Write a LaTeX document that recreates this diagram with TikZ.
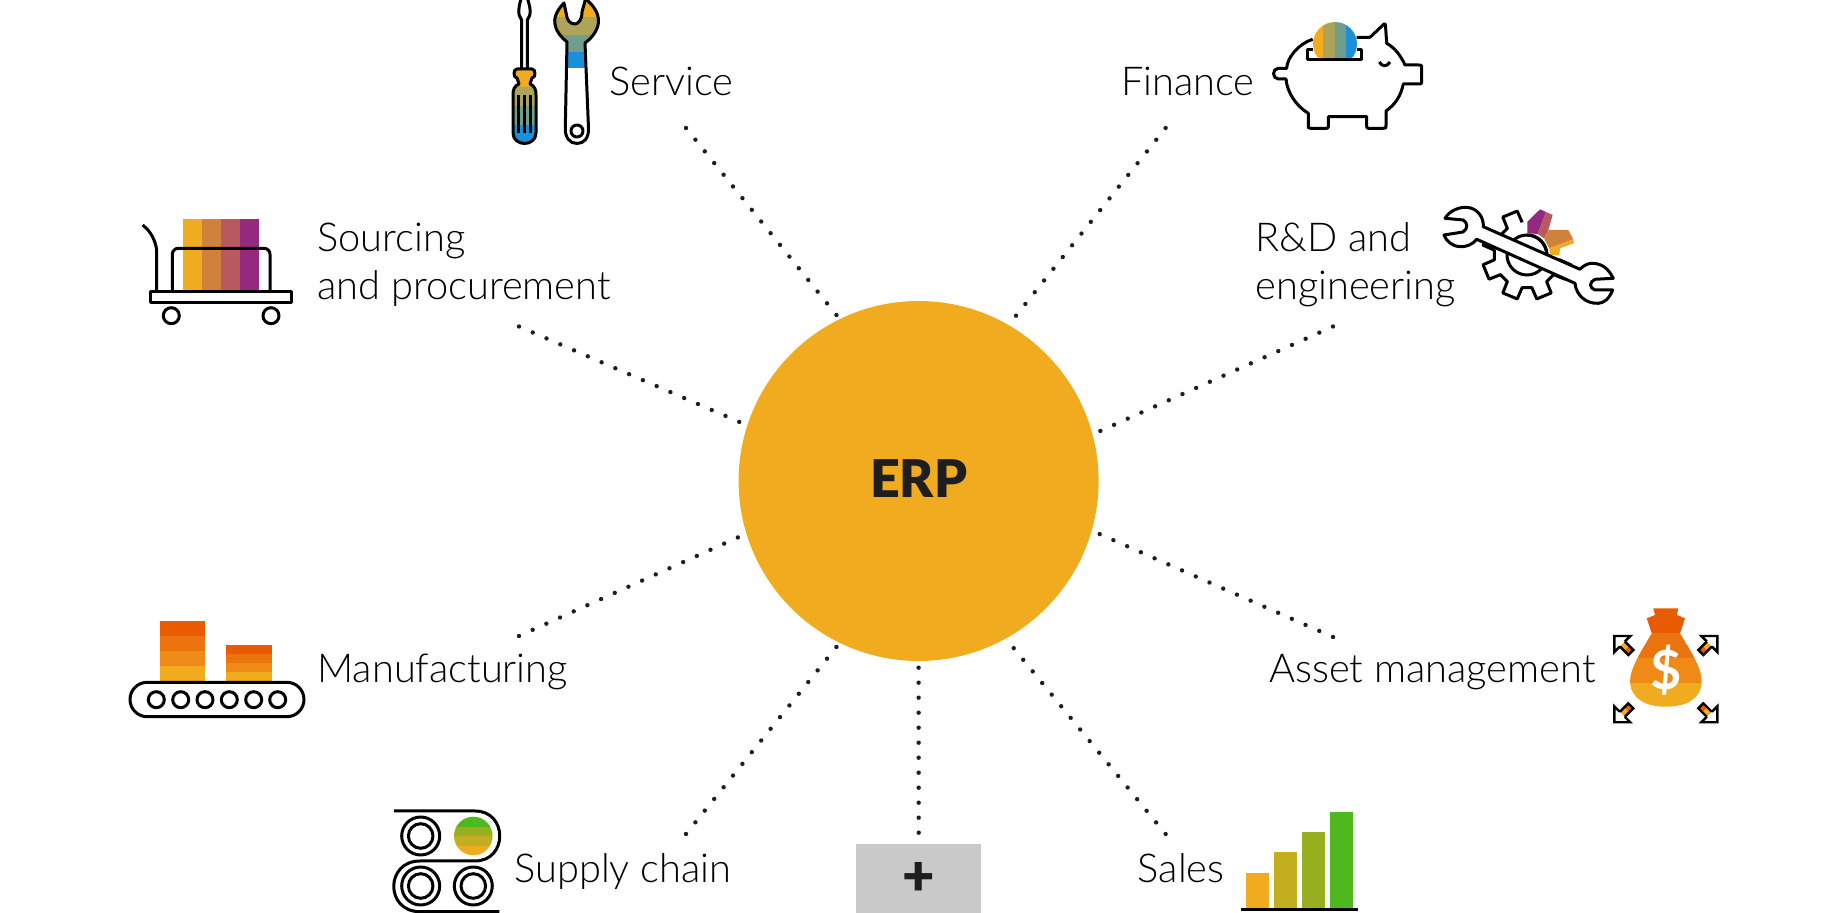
\documentclass[tikz,border=0pt]{standalone}
\usepackage{fontspec}
\setmainfont{Lato}[UprightFont=* Light, BoldFont=* Bold]
\newfontfamily\heavyface{Lato Black}
\usepackage{tikz}
\definecolor{erpgold}{HTML}{F0AB1E}
\definecolor{ink}{HTML}{1E1E1E}
\definecolor{olive}{HTML}{AEA35A}
\definecolor{teal}{HTML}{6F9F8C}
\definecolor{sky}{HTML}{1B90D8}
\definecolor{copper}{HTML}{D0823C}
\definecolor{rose}{HTML}{B85960}
\definecolor{plum}{HTML}{95297F}
\definecolor{rust}{HTML}{E85B00}
\definecolor{tanger}{HTML}{EB740F}
\definecolor{amber}{HTML}{EE8A15}
\definecolor{mustard}{HTML}{C3AE1F}
\definecolor{moss}{HTML}{98AF1F}
\definecolor{leaf}{HTML}{50B81F}
\def\driverpath{(517,69) -- (532,69) .. controls (536,69) and (536,78) .. (532,78) -- (530,84) .. controls (535,86) and (536,90) .. (536,95) -- (536,133) .. controls (536,140) and (530,143.5) .. (524.5,143.5) .. controls (519,143.5) and (513,140) .. (513,133) -- (513,95) .. controls (513,90) and (514,86) .. (519,84) -- (517,78) .. controls (513,78) and (513,69) .. (517,69) -- cycle}
\def\spannerpath{(564,3) .. controls (555,12) and (554,20) .. (555,24) .. controls (556,32) and (562,38) .. (567,42) -- (565.3,128) .. controls (565,138) and (570,143.5) .. (577,143.5) .. controls (584,143.5) and (589,138) .. (588.5,128) -- (585,43) .. controls (592,38) and (598,30) .. (598.5,22) .. controls (599,12) and (592,4) .. (585.5,-1) -- (582,12) .. controls (582,20) and (578,24) .. (575,24) .. controls (570,24) and (567,20) .. (566.5,15) -- cycle}
\def\bagpath{(1653.3,608.3) -- (1678.3,608.3) -- (1677,615) -- (1685,618.3) -- (1680,633.3) .. controls (1690,650) and (1702,668) .. (1701.7,681.7) .. controls (1701,700) and (1685,706.7) .. (1666,706.7) .. controls (1647,706.7) and (1631,700) .. (1630,681.7) .. controls (1630,668) and (1642,650) .. (1651.7,633.3) -- (1646.7,618.3) -- (1655,615) -- cycle}
\begin{document}
\begin{tikzpicture}[
  x=.5pt, y=-.5pt,
  lab/.style={font=\fontsize{19.9}{23.8}\selectfont, text=black, align=left, inner sep=0pt},
  hub/.style={circle, fill=erpgold, minimum size=180pt, inner sep=0pt, text=ink, font=\fontsize{26}{30}\selectfont\heavyface},
  more/.style={fill=black!21, minimum width=62.5pt, minimum height=34.5pt, inner sep=0pt, text=ink, font=\fontsize{28}{30}\selectfont\heavyface},
  spoke/.style={ink, line width=2.2pt, line cap=round, dash pattern=on 0pt off 7.5pt, shorten >=2pt},
  icon/.style={black, line width=1.5pt, line join=round},
  stout/.style={black, line width=1.7pt, line join=round}
]
  \useasboundingbox (0,0) rectangle (1822,913);
  \node[hub] (erp) at (918.6,481) {\raisebox{1.1pt}[\height][\depth]{ERP}};
  \node[more] (plus) at (918.5,878.5) {+};
  \node[lab, anchor=base west] (service) at (609,96) {Service};
  \node[lab, anchor=base east] (finance) at (1255,96) {Finance};
  \node[lab, anchor=west] (sourcing) at (317,265) {Sourcing\\and procurement};
  \node[lab, anchor=west] (rnd) at (1255,265) {R\&D and\\engineering};
  \node[lab, anchor=base west] (manufacturing) at (317,683) {Manufacturing};
  \node[lab, anchor=base east] (asset) at (1596,683) {Asset management};
  \node[lab, anchor=base west] (supply) at (514,883) {Supply chain};
  \node[lab, anchor=base east] (sales) at (1225,883) {Sales};
  \coordinate (serviceend) at (686,128);
  \coordinate (financeend) at (1165.6,128);
  \coordinate (sourcingend) at (519,326.5);
  \coordinate (rndend) at (1333,326.5);
  \coordinate (manufacturingend) at (519,636);
  \coordinate (assetend) at (1333,637);
  \coordinate (supplyend) at (686,834);
  \coordinate (salesend) at (1165.6,834);
  \coordinate (plusend) at (918.7,832.7);
  \draw[spoke] (serviceend) -- (erp.116);
  \draw[spoke] (financeend) -- (erp.60.5);
  \draw[spoke] (sourcingend) -- (erp.162.5);
  \draw[spoke] (rndend) -- (erp.15.6);
  \draw[spoke] (manufacturingend) -- (erp.197.5);
  \draw[spoke] (assetend) -- (erp.-16);
  \draw[spoke] (supplyend) -- (erp.244);
  \draw[spoke] (salesend) -- (erp.299.4);
  \draw[spoke] (plusend) -- (erp.270);

  \begin{scope}
    \clip \driverpath;
    \fill[erpgold] (505,60) rectangle (545,87);
    \fill[olive] (505,87) rectangle (545,106);
    \fill[teal] (505,106) rectangle (545,125);
    \fill[sky] (505,125) rectangle (545,150);
  \end{scope}
  \draw[icon] \driverpath;
  \draw[icon] (518.3,95) -- (518.3,133) (524.5,95) -- (524.5,133) (530.5,95) -- (530.5,133);
  \draw[icon] (521.7,69) -- (521.7,20) .. controls (517,15) and (519,6) .. (521,-1)
    (527.5,-1) .. controls (530,6) and (532,15) .. (527.3,20) -- (527.3,69);
  \begin{scope}
    \clip \spannerpath;
    \fill[erpgold] (545,-5) rectangle (605,17);
    \fill[olive] (545,17) rectangle (605,35);
    \fill[teal] (545,35) rectangle (605,52);
    \fill[sky] (545,52) rectangle (605,68);
  \end{scope}
  \draw[icon] \spannerpath;
  \draw[icon] (577,131) circle (6);

  \draw[icon] (1312.7,39.3) .. controls (1298,44) and (1287,58) .. (1286.7,68.3) -- (1278.3,68.3)
    .. controls (1272,68.3) and (1272,79) .. (1278.3,79) -- (1286,79)
    .. controls (1287,92) and (1296,106) .. (1308.3,113.3) -- (1308.3,125) .. controls (1308.3,128.3) .. (1311,128.3)
    -- (1325,128.3) .. controls (1328.3,128.3) .. (1328.3,125) -- (1328.3,116.7) -- (1366.7,116.7) -- (1366.7,125)
    .. controls (1366.7,128.3) .. (1370,128.3) -- (1383,128.3) .. controls (1386,128.3) .. (1386,125) -- (1386,111)
    .. controls (1396,104) and (1401,95) .. (1403.3,84) -- (1418,84) .. controls (1421.7,84) .. (1421.7,80)
    -- (1421.7,69) .. controls (1421.7,65) .. (1418,65) -- (1405,65)
    .. controls (1401,56) and (1395,48) .. (1386.7,43.3) -- (1385.5,26) .. controls (1385,23) .. (1382,26)
    -- (1370,37.3) -- (1356.7,37.3);
  \begin{scope}
    \clip (1335,44) circle (22);
    \fill[erpgold] (1310,20) rectangle (1323.3,59.3);
    \fill[olive] (1323.3,20) rectangle (1334.7,59.3);
    \fill[teal] (1334.7,20) rectangle (1346,59.3);
    \fill[sky] (1346,20) rectangle (1360,59.3);
  \end{scope}
  \draw[icon] (1313,50) -- (1307.7,50) -- (1307.7,59.3) -- (1361.7,59.3) -- (1361.7,50) -- (1357,50);
  \draw[icon] (1379.3,62) .. controls (1382,67) and (1387,67) .. (1390,62);

  \fill[erpgold] (183.3,219) rectangle (202,290.7);
  \fill[copper] (202,219) rectangle (221,290.7);
  \fill[rose] (221,219) rectangle (240,290.7);
  \fill[plum] (240,219) rectangle (259,290.7);
  \draw[icon, rounded corners=7pt] (142.7,225) -- (156.7,238) -- (156.7,291);
  \draw[icon, rounded corners=3pt] (172.3,291) -- (172.3,248.3) -- (270,248.3) -- (270,291);
  \draw[icon, fill=white] (150.7,291.7) rectangle (291.7,302.3);
  \draw[icon] (171.3,315.7) circle (8) (271,315.7) circle (8);

  \fill[rust] (160,621) rectangle (205,636);
  \fill[tanger] (160,636) rectangle (205,651);
  \fill[amber] (160,651) rectangle (205,666);
  \fill[erpgold] (160,666) rectangle (205,682);
  \fill[rust] (226,645) rectangle (272,654);
  \fill[tanger] (226,654) rectangle (272,663);
  \fill[amber] (226,663) rectangle (272,672);
  \fill[erpgold] (226,672) rectangle (272,682);
  \draw[icon, rounded corners=8.6pt] (130,682.3) rectangle (304,716.7);
  \foreach \px in {156.3,180.7,205,229.3,253.7,277.7}
    \draw[icon] (\px,699.7) circle (8);

  \begin{scope}
    \clip (473.3,836) circle (19.3);
    \fill[leaf] (450,815) rectangle (495,826.7);
    \fill[moss] (450,826.7) rectangle (495,836);
    \fill[mustard] (450,836) rectangle (495,846);
    \fill[erpgold] (450,846) rectangle (495,857);
  \end{scope}
  \draw[icon] (394,811) -- (475,811) .. controls (508,811) and (508,861) .. (475,861) -- (420,861)
    .. controls (385,861) and (385,911.7) .. (420,911.7) -- (499.3,911.7);
  \draw[icon] (420.7,836) circle (19) (420.7,836) circle (12.3);
  \draw[icon] (420.7,886) circle (19) (420.7,886) circle (12.3);
  \draw[icon] (473.3,886) circle (19) (473.3,886) circle (12.3);

  \fill[erpgold] (1246,872.7) rectangle (1269,908);
  \fill[mustard] (1274,852) rectangle (1297,908);
  \fill[moss] (1302,832) rectangle (1325,908);
  \fill[leaf] (1330,811.7) rectangle (1353,908);
  \draw[stout] (1241,909.3) -- (1358,909.3);

  \begin{scope}
    \clip \bagpath;
    \fill[rust] (1620,600) rectangle (1710,633.3);
    \fill[tanger] (1620,633.3) rectangle (1710,658.3);
    \fill[amber] (1620,658.3) rectangle (1710,683.3);
    \fill[erpgold] (1620,683.3) rectangle (1710,710);
  \end{scope}
  \node[text=white, font=\fontsize{27}{30}\selectfont\bfseries, inner sep=0pt] (dollar) at (1665.7,670) {\$};
  \foreach \cx/\cy/\sx/\sy in {1613.3/635/1/1,1718.3/635/-1/1,1613.3/723.3/1/-1,1718.3/723.3/-1/-1} {
    \begin{scope}[shift={(\cx,\cy)}, xscale=\sx, yscale=\sy]
      \fill[erpgold] (11.5,6.5) -- (16,11) -- (11,16) -- (6.5,11.5) -- cycle;
      \fill[rust] (16,11) -- (20,15) -- (15,20) -- (11,16) -- cycle;
      \draw[black, line width=1.2pt, line join=miter] (11.5,6.5) -- (17,1) -- (1,1) -- (1,17) -- (6.5,11.5);
      \draw[black, line width=1.2pt] (11.5,6.5) -- (20,15) -- (15,20) -- (6.5,11.5);
    \end{scope}
  }

  \begin{scope}[shift={(1527,255)}]
    \draw[icon] (19,8) \foreach \a in {22.5,67.5,112.5,157.5,202.5,247.5} {
      -- (\a-14:33) -- (\a-10:45) -- (\a+10:45) -- (\a+14:33) };
    \draw[icon] (0,0) circle (20);
  \end{scope}
  \fill[plum] (1527.3,221.7) -- (1540,209.3) -- (1546,212) -- (1537.7,234) -- (1527.3,233.3) -- cycle;
  \fill[rose] (1546,212) -- (1552.7,215) -- (1548.3,230) -- (1544,238.3) -- (1537.7,234) -- cycle;
  \fill[copper] (1548.3,230) -- (1568.3,230) -- (1573.3,239.3) -- (1549.3,248.3) -- (1544,238.3) -- cycle;
  \fill[erpgold] (1549.3,248.3) -- (1573.3,239.3) -- (1574,243.3) -- (1560,248.3) -- (1559.3,255) -- (1550,255) -- cycle;
  \draw[icon] (1527,235) .. controls (1537,235) and (1546,243) .. (1547,255);
  \draw[icon, fill=white] (1445,218.3) .. controls (1450,210) and (1460,207) .. (1466.7,207.3)
    .. controls (1477,208) and (1484,217) .. (1483.3,226.7) -- (1580,269.3)
    .. controls (1585,264) and (1590,263) .. (1593.3,263.3) .. controls (1602,264) and (1608,268) .. (1613.3,278.3)
    -- (1595,279.3) .. controls (1589,282) and (1589,288) .. (1595,290) -- (1612.7,290)
    .. controls (1609,299) and (1604,303) .. (1598.3,303.3) .. controls (1586,304) and (1576,295) .. (1575,283.3)
    -- (1476.7,239.3) .. controls (1472,245) and (1466,247) .. (1460,246.7) .. controls (1452,246) and (1447,242) .. (1444,235)
    -- (1463,232) .. controls (1468,229) and (1468,223) .. (1463.3,220) -- cycle;
\end{tikzpicture}
\end{document}
